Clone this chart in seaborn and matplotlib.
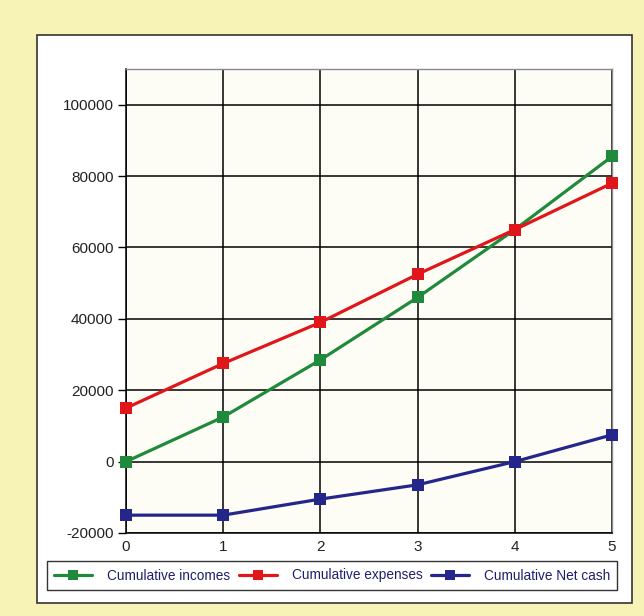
import matplotlib
matplotlib.use("Agg")
import matplotlib.pyplot as plt
from matplotlib.patches import Rectangle
import pandas as pd
import seaborn as sns

# Cumulative cash figures per year
years = [0, 1, 2, 3, 4, 5]
incomes = [0, 12500, 28500, 46000, 65000, 85500]
expenses = [15000, 27500, 39000, 52500, 65000, 78000]
net_cash = [-15000, -15000, -10500, -6500, 0, 7500]

series_names = ["Cumulative incomes", "Cumulative expenses", "Cumulative Net cash"]
series_colors = ["#1f8a3b", "#e0161b", "#25268c"]
y_ticks = [-20000, 0, 20000, 40000, 60000, 80000, 100000]

df = pd.DataFrame({
    "year": years * 3,
    "value": incomes + expenses + net_cash,
    "series": [series_names[0]] * 6 + [series_names[1]] * 6 + [series_names[2]] * 6,
})

sns.set_style("white")
plt.rcParams["font.family"] = ["Liberation Sans", "DejaVu Sans"]

fig = plt.figure(figsize=(6.44, 6.16), dpi=100)
fig.patch.set_facecolor("#f7f2b6")

W, H = 644, 616
# white panel behind the chart
panel = Rectangle((37 / W, 1 - 603 / H), (632 - 37) / W, (603 - 35) / H,
                  transform=fig.transFigure, facecolor="white",
                  edgecolor="#333333", linewidth=1.2, zorder=-10)
fig.patches.append(panel)

ax = fig.add_axes([126 / W, 1 - 533 / H, (612 - 126) / W, (533 - 69) / H])
ax.set_facecolor("#fdfdf6")

sns.lineplot(data=df, x="year", y="value", hue="series", hue_order=series_names,
             palette=series_colors, marker="s", markersize=8, markeredgewidth=0,
             linewidth=2.3, dashes=False, ax=ax, legend=False, zorder=3,
             clip_on=False)

ax.set_xlim(0, 5)
ax.set_ylim(-20000, 110000)
ax.set_xticks(years)
ax.set_yticks(y_ticks)
ax.set_yticklabels([str(v) for v in y_ticks])
ax.grid(True, color="black", linewidth=1.1)
ax.set_axisbelow(True)
ax.set_xlabel("")
ax.set_ylabel("")
ax.tick_params(axis="y", direction="out", length=6, width=1, color="black",
               labelsize=11, labelcolor="#222222", pad=3)
ax.tick_params(axis="x", direction="out", length=0, labelsize=11,
               labelcolor="#222222", pad=5)
ax.tick_params(left=True, bottom=False)
for side in ["left", "bottom"]:
    ax.spines[side].set_color("black")
    ax.spines[side].set_linewidth(1.1)
for side in ["top", "right"]:
    ax.spines[side].set_color("#8a8a8a")
    ax.spines[side].set_linewidth(1.0)

handles = [plt.Line2D([], [], color=c, marker="s", markersize=7, markeredgewidth=0,
                      linewidth=2.3) for c in series_colors]
leg = fig.legend(handles, series_names, loc="center", ncol=3,
                 bbox_to_anchor=(332 / W, 1 - 575.5 / H),
                 fontsize=9.8, frameon=True, fancybox=False,
                 edgecolor="black", handlelength=2.8, handletextpad=1.1,
                 columnspacing=0.6, borderpad=0.55, borderaxespad=0,
                 labelcolor="#1e1e6e")
leg.get_frame().set_linewidth(1.0)

fig.savefig("out.png", dpi=100, facecolor=fig.get_facecolor())
